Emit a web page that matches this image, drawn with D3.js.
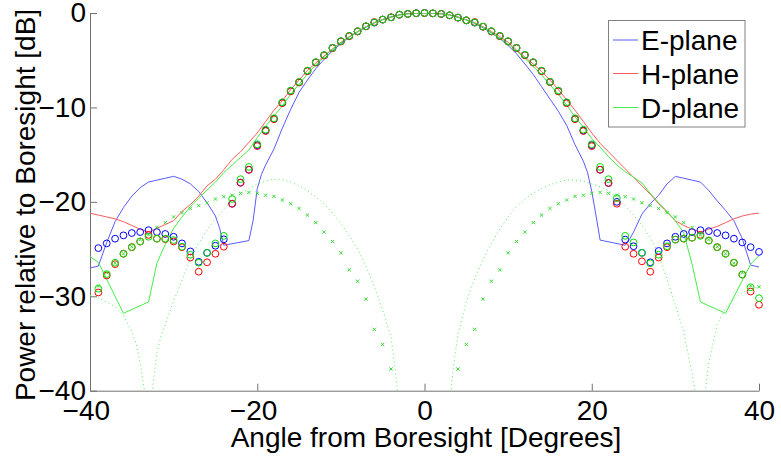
<!DOCTYPE html>
<html>
<head>
<meta charset="utf-8">
<script src="https://cdn.jsdelivr.net/npm/d3@7"></script>
<style>
  html, body { margin: 0; padding: 0; background: #fff; }
  svg { display: block; font-family: "Liberation Sans", Arial, sans-serif; }
  .axis path, .axis line { stroke: #707070; stroke-width: 1; }
  .axis text { font-size: 28px; fill: #000; font-family: "Liberation Sans", Arial, sans-serif; }
  .axis-label { font-size: 28px; fill: #000; }
  .legend-text { font-size: 28px; fill: #000; }
</style>
</head>
<body>
<svg id="chart"></svg>
<script>
// --- DATA ---
// simulated patterns (circles), one point per degree
const circleAngles = [-39,-38,-37,-36,-35,-34,-33,-32,-31,-30,-29,-28,-27,-26,-25,-24,-23,-22,-21,
  -20,-19,-18,-17,-16,-15,-14,-13,-12,-11,-10,-9,-8,-7,-6,-5,-4,-3,-2,-1,0,
  1,2,3,4,5,6,7,8,9,10,11,12,13,14,15,16,17,18,19,20,
  21,22,23,24,25,26,27,28,29,30,31,32,33,34,35,36,37,38,39,40];

const eCircles = [-24.9,-24.4,-23.9,-23.55,-23.3,-23.2,-23.0,-23.2,-23.4,-23.7,-24.4,-25.25,-26.35,-25.4,-24.65,-23.97,-20.2,-17.97,-16.6,
  -14.0,-12.45,-11.2,-9.5,-8.26,-7.34,-6.14,-5.23,-4.48,-3.7,-3.0,-2.44,-1.94,-1.41,-1.02,-0.7,-0.46,-0.18,-0.1,-0.03,0,
  -0.04,-0.1,-0.25,-0.49,-0.78,-1.02,-1.45,-1.94,-2.44,-3.0,-3.7,-4.45,-5.23,-6.14,-7.3,-8.26,-9.5,-11.2,-12.45,-14.0,
  -16.6,-18.0,-20.0,-24.0,-24.7,-25.4,-26.4,-25.2,-24.4,-23.7,-23.4,-23.2,-23.0,-23.1,-23.3,-23.55,-23.9,-24.3,-24.8,-25.3];

const hCircles = [-29.6,-27.8,-26.6,-25.5,-24.8,-24.2,-23.5,-23.9,-23.95,-24.2,-24.8,-25.9,-27.4,-26.4,-25.5,-24.75,-20.2,-17.97,-16.6,
  -14.1,-12.5,-11.25,-9.55,-8.3,-7.36,-6.16,-5.25,-4.5,-3.72,-3.02,-2.46,-1.96,-1.42,-0.95,-0.7,-0.46,-0.18,-0.1,-0.03,0,
  -0.04,-0.1,-0.25,-0.49,-0.78,-0.95,-1.46,-1.96,-2.46,-3.02,-3.72,-4.47,-5.25,-6.16,-7.32,-8.3,-9.55,-11.25,-12.5,-14.1,
  -16.6,-18.0,-20.2,-24.75,-25.5,-26.3,-27.4,-25.9,-24.8,-24.0,-23.9,-23.8,-23.5,-24.1,-24.8,-25.5,-26.45,-27.7,-29.5,-30.9];

const dCircles = [-29.2,-27.65,-26.45,-25.5,-24.8,-24.2,-23.7,-23.9,-23.9,-24.05,-24.75,-25.6,-26.45,-25.4,-24.4,-23.6,-19.7,-17.6,-16.3,
  -13.9,-12.35,-11.15,-9.45,-8.22,-7.3,-6.1,-5.2,-4.45,-3.68,-2.98,-2.42,-1.92,-1.4,-1.0,-0.69,-0.45,-0.17,-0.09,-0.02,0,
  -0.03,-0.09,-0.24,-0.48,-0.77,-1.0,-1.44,-1.92,-2.42,-2.98,-3.68,-4.43,-5.2,-6.1,-7.28,-8.22,-9.45,-11.15,-12.35,-13.9,
  -16.3,-17.6,-19.6,-23.6,-24.3,-25.4,-26.5,-25.6,-24.7,-24.0,-23.9,-23.8,-23.6,-24.1,-24.8,-25.5,-26.45,-27.7,-29.05,-30.2];

// D-plane cross-pol (x markers), null = below the axis
const dCross = [-28.9,-27.5,-26.5,-25.5,-24.75,-24.0,-23.5,-22.7,-22.2,-21.6,-21.15,-20.7,-20.4,-20.1,-19.7,-19.45,-19.3,-19.1,-19.0,
  -19.1,-19.3,-19.42,-19.8,-20.2,-20.7,-21.4,-22.2,-23.2,-24.2,-25.4,-27.2,-28.4,-30.3,-33.5,-35.1,-37.7,null,null,null,null,
  null,null,null,-37.7,-35.1,-33.5,-30.3,-28.4,-27.2,-25.4,-24.2,-23.2,-22.2,-21.4,-20.7,-20.2,-19.8,-19.42,-19.3,-19.1,
  -19.0,-19.1,-19.3,-19.45,-19.7,-20.1,-20.4,-20.7,-21.15,-21.6,-22.2,-22.7,-23.5,-24.0,-24.75,-25.5,-26.5,-27.5,-28.9,-29.0];

// measured E-plane
const eAngles = [-40,-39,-38,-37,-36,-35,-34,-33,-32,-31,-30,-29,-28,-27,-26,-25,-24.5,-24,-21,-20.5,-20,-19.5,
  -19,-18,-17,-16,-15,-14,-13,-12,-11,-10,-9,-8,-7,-6,-5,-4,-3,-2,-1,0,
  1,2,3,4,5,6,7,8,9,10,11,12,13,14,15,16,17,18,19,19.5,20,20.5,21,24,24.5,
  25,26,27,28,29,30,31,32,33,34,35,36,37,38,39,40];
const eValues = [-27.0,-26.8,-24.3,-22.1,-20.6,-19.4,-18.5,-17.9,-17.7,-17.5,-17.3,-17.6,-18.1,-18.9,-20.1,-21.5,-22.8,-24.6,-24.1,-22.0,-18.6,-17.1,
  -16.1,-14.4,-12.2,-10.2,-8.4,-7.1,-5.9,-4.9,-4.0,-3.25,-2.55,-2.0,-1.5,-1.05,-0.68,-0.4,-0.2,-0.07,-0.01,0,
  -0.01,-0.07,-0.2,-0.42,-0.72,-1.1,-1.55,-2.1,-2.7,-3.45,-4.3,-5.4,-6.5,-7.8,-9.1,-10.4,-11.9,-13.95,-15.7,-16.9,-18.9,-21.4,-24.05,-24.6,-24.0,
  -23.2,-21.3,-20.2,-19.3,-18.1,-17.3,-17.5,-17.7,-17.9,-18.8,-19.9,-20.9,-22.0,-23.9,-26.7,-26.9];

// measured H-plane
const hAngles = [-40,-39,-38,-37,-36,-35,-34,-33,-32,-31,-30,-29,-28,-27,-26,-25,-24,-23,-22,-21,
  -20,-19,-18,-17,-16,-15,-14,-13,-12,-11,-10,-9,-8,-7,-6,-5,-4,-3,-2,-1,0,
  1,2,3,4,5,6,7,8,9,10,11,12,13,14,15,16,17,18,19,20,
  21,22,23,24,25,26,27,28,29,30,31,32,33,34,35,36,37,38,39,40];
const hValues = [-21.2,-21.4,-21.6,-21.8,-22.1,-22.5,-22.9,-23.2,-22.8,-22.4,-22.0,-21.0,-20.3,-19.4,-18.3,-17.6,-16.6,-15.5,-14.7,-13.7,
  -12.7,-11.5,-10.3,-9.3,-8.1,-7.1,-6.1,-5.3,-4.55,-3.8,-3.1,-2.5,-1.97,-1.45,-1.0,-0.7,-0.45,-0.2,-0.08,-0.02,0,
  -0.02,-0.08,-0.2,-0.45,-0.72,-1.02,-1.45,-1.97,-2.5,-3.1,-3.9,-4.65,-5.4,-6.2,-7.1,-8.1,-9.2,-10.3,-11.5,-12.7,
  -13.8,-14.7,-15.6,-16.5,-17.4,-18.3,-19.2,-20.2,-21.1,-22.0,-22.5,-22.9,-23.2,-22.9,-22.6,-22.2,-21.8,-21.5,-21.3,-21.2];

// measured D-plane
const dAngles = [-40,-39,-36,-33,-32,-31,-30,-29,-28,-27,-26,-25,-24,-23,-22,-21,
  -20,-19,-18,-17,-16,-15,-14,-13,-12,-11,-10,-9,-8,-7,-6,-5,-4,-3,-2,-1,0,
  1,2,3,4,5,6,7,8,9,10,11,12,13,14,15,16,17,18,19,20,
  21,22,23,24,25,26,27,28,29,30,31,32,33,36,39,40];
const dValues = [-25.8,-26.4,-31.8,-30.6,-26.5,-24.5,-22.8,-21.6,-20.5,-19.6,-18.75,-17.9,-16.9,-16.1,-15.3,-14.5,
  -13.2,-12.0,-10.9,-9.85,-8.6,-7.55,-6.45,-5.5,-4.65,-3.85,-3.15,-2.55,-1.98,-1.45,-1.03,-0.72,-0.46,-0.2,-0.1,-0.03,0,
  -0.03,-0.1,-0.22,-0.47,-0.75,-1.05,-1.5,-2.05,-2.65,-3.3,-4.0,-4.8,-5.65,-6.55,-7.6,-8.6,-9.75,-11.0,-12.1,-13.3,
  -14.2,-15.2,-16.1,-16.8,-17.4,-18.0,-19.1,-20.1,-21.0,-22.0,-23.3,-26.6,-30.6,-31.8,-26.6,-25.7];

// D-plane cross-pol, measured (dotted)
const dotAngles = [-40,-39,-38,-37,-36,-35,-34.5,-34,-33.5,-33,-32.5,-32,-31.5,-31,
  -30,-29,-28,-27,-26,-25,-24,-23,-22,-21,-20,-19,-18,-17,-16,-15,-14,-13,-12,-11,-10,-9,-8,-7,-6,-5,-4,
  -3.5,-3,-2,0,2,3,3.5,
  4,5,6,7,8,9,10,11,12,13,14,15,16,17,18,19,20,21,22,23,24,25,26,27,28,29,30,31,32,
  32.5,33,33.5,34,35,36,37,38,39,40];
const dotValues = [-29.9,-30.2,-30.6,-31.1,-32.0,-33.8,-35.0,-37.0,-40.0,-48,-39.6,-36.0,-34.2,-33.0,
  -30.5,-28.3,-26.0,-24.4,-23.0,-21.8,-20.8,-19.9,-19.2,-18.6,-18.1,-17.8,-17.6,-17.65,-17.9,-18.3,-18.8,-19.5,-20.2,-21.2,-22.3,-23.6,-25.0,-26.8,-29.0,-31.5,-34.3,
  -37.8,-42,-50,-70,-50,-41.5,-37.2,
  -34.0,-30.6,-28.1,-26.1,-24.4,-22.9,-21.6,-20.5,-19.7,-19.1,-18.6,-18.2,-17.9,-17.7,-17.7,-17.8,-18.1,-18.4,-18.8,-19.6,-20.4,-21.4,-22.5,-23.8,-25.5,-28.2,-30.9,-33.8,-38.2,
  -41,-48,-40.5,-37.0,-33.0,-31.2,-30.3,-29.6,-29.2,-29.0];

const xTicks = [-40, -20, 0, 20, 40];
const yTicks = [-40, -30, -20, -10, 0];
const legendLabels = ["E-plane", "H-plane", "D-plane"];

// --- SETUP ---
const W = 781, H = 459;
const plot = { left: 90, right: 759, top: 13, bottom: 390.7 };

const colors = { e: "#0000ff", h: "#ff0000", d: "#00e000" };
const lineColors = ["#5a5aff", "#ff5a5a", "#44ee44"];

const svg = d3.select("#chart").attr("width", W).attr("height", H);

const x = d3.scaleLinear().domain([-40, 40]).range([plot.left, plot.right]);
const y = d3.scaleLinear().domain([-40, 0]).range([plot.bottom, plot.top]);

svg.append("defs").append("clipPath").attr("id", "clip")
  .append("rect")
  .attr("x", plot.left).attr("y", plot.top)
  .attr("width", plot.right - plot.left).attr("height", plot.bottom - plot.top);

// Axes (ticks pointing inward, no box)
svg.append("g")
  .attr("class", "axis")
  .attr("transform", `translate(0,${plot.bottom})`)
  .call(d3.axisBottom(x).tickValues(xTicks).tickSizeInner(-7).tickSizeOuter(0).tickPadding(9))
  .call(g => g.selectAll("text").attr("dx", d => d < 0 ? "-0.15em" : null));

svg.append("g")
  .attr("class", "axis")
  .attr("transform", `translate(${plot.left},0)`)
  .call(d3.axisLeft(y).tickValues(yTicks).tickSizeInner(-7).tickSizeOuter(0).tickPadding(4));

svg.selectAll(".axis .domain").attr("stroke", "#707070");

// Axis labels
svg.append("text")
  .attr("class", "axis-label")
  .attr("text-anchor", "middle")
  .attr("x", 426)
  .attr("y", 447)
  .text("Angle from Boresight [Degrees]");

svg.append("text")
  .attr("class", "axis-label")
  .attr("text-anchor", "middle")
  .attr("transform", "translate(35,205) rotate(-90)")
  .text("Power relative to Boresight [dB]");

// --- LINES ---
const line = d3.line()
  .defined(d => d[1] !== null)
  .x(d => x(d[0]))
  .y(d => y(d[1]));

const lineGroup = svg.append("g").attr("clip-path", "url(#clip)");

const measured = [
  { angles: eAngles, values: eValues, color: lineColors[0] },
  { angles: hAngles, values: hValues, color: lineColors[1] },
  { angles: dAngles, values: dValues, color: lineColors[2] }
];

measured.forEach(s => {
  lineGroup.append("path")
    .datum(d3.zip(s.angles, s.values))
    .attr("fill", "none")
    .attr("stroke", s.color)
    .attr("stroke-width", 1)
    .attr("stroke-linejoin", "round")
    .attr("d", line);
});

// --- MARKERS ---
const inside = d => d[1] !== null && d[1] >= -40 && d[1] <= 0.5;

[[eCircles, colors.e], [hCircles, colors.h], [dCircles, colors.d]].forEach(([vals, c]) => {
  svg.append("g").selectAll("circle")
    .data(d3.zip(circleAngles, vals).filter(inside))
    .join("circle")
    .attr("cx", d => x(d[0]))
    .attr("cy", d => y(d[1]))
    .attr("r", 3.4)
    .attr("fill", "none")
    .attr("stroke", c)
    .attr("stroke-width", 1);
});

const cross = svg.append("g")
  .attr("stroke", "#33dd33")
  .attr("stroke-width", 1);
cross.selectAll("path")
  .data(d3.zip(circleAngles, dCross).filter(inside))
  .join("path")
  .attr("d", d => {
    const cx = x(d[0]), cy = y(d[1]), s = 1.6;
    return `M${cx - s},${cy - s}L${cx + s},${cy + s}M${cx - s},${cy + s}L${cx + s},${cy - s}`;
  });

// dotted cross-pol curve
lineGroup.append("path")
  .datum(d3.zip(dotAngles, dotValues))
  .attr("fill", "none")
  .attr("stroke", "#55ee55")
  .attr("stroke-width", 1)
  .attr("stroke-dasharray", "1,3")
  .attr("d", line);

// --- LEGEND ---
const legend = svg.append("g");
legend.append("rect")
  .attr("x", 608.5).attr("y", 20.5)
  .attr("width", 136.5).attr("height", 106.5)
  .attr("fill", "#fff")
  .attr("stroke", "#808080")
  .attr("stroke-width", 1);

const rowY = [40, 73.5, 107.5];
legendLabels.forEach((label, i) => {
  legend.append("line")
    .attr("x1", 613).attr("x2", 638)
    .attr("y1", rowY[i]).attr("y2", rowY[i])
    .attr("stroke", lineColors[i])
    .attr("stroke-width", 1);
  legend.append("text")
    .attr("class", "legend-text")
    .attr("x", 641)
    .attr("y", rowY[i] + 10)
    .text(label);
});
</script>
</body>
</html>
